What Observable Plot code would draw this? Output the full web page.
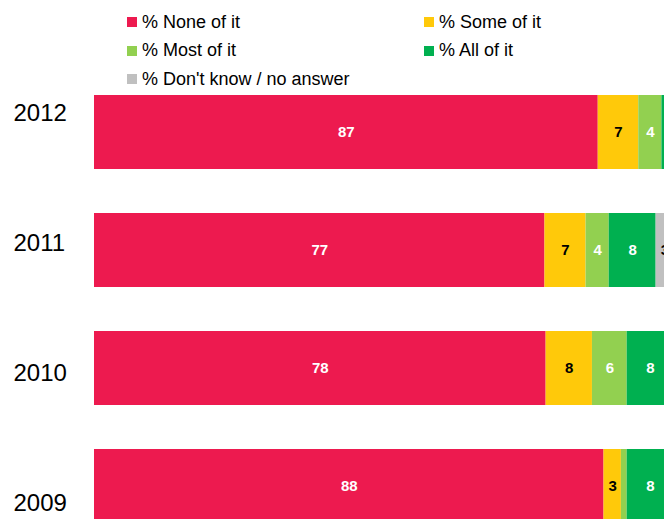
<!DOCTYPE html>
<html>
<head>
<meta charset="utf-8">
<script src="https://cdn.jsdelivr.net/npm/d3@7"></script>
<script src="https://cdn.jsdelivr.net/npm/@observablehq/plot@0.6"></script>
<style>
  html, body { margin: 0; padding: 0; overflow: hidden; background: #fff; }
  #wrap { position: relative; width: 664px; height: 519px; overflow: hidden; font-family: "Liberation Sans", Arial, sans-serif; }
  #legend { position: relative; height: 88px; }
  .item { position: absolute; height: 22px; display: flex; align-items: center; font-size: 18px; color: #000; white-space: nowrap; }
  .sw { width: 10px; height: 10px; margin-right: 5px; flex: none; }
  svg { display: block; }
</style>
</head>
<body>
<div id="wrap">
  <div id="legend"></div>
  <div id="chart"></div>
</div>
<script>
// ---- data ----
const years = ["2012", "2011", "2010", "2009"];
const series = ["% None of it", "% Some of it", "% Most of it", "% All of it", "% Don't know / no answer"];
const colors = ["#ED1A4F", "#FFC90A", "#92D050", "#00B050", "#C0C0C0"];
const labelColors = ["#fff", "#000", "#fff", "#fff", "#000"];
const noneOfIt   = [87, 77.8, 78, 88];
const someOfIt   = [7, 7.1, 8, 3];
const mostOfIt   = [4, 4, 6, 1];
const allOfIt    = [1, 8.1, 8, 8];
const dontKnow   = [1, 3, 0, 0];
// printed data labels of "% None of it" as shown in the source
const noneOfItLabels = ["87", "77", "78", "88"];

const valuesBySeries = [noneOfIt, someOfIt, mostOfIt, allOfIt, dontKnow];
const data = [];
years.forEach((yr, i) => {
  series.forEach((s, j) => {
    const v = valuesBySeries[j][i];
    const label = j === 0 ? noneOfItLabels[i] : (v >= 2.5 ? String(Math.round(v)) : "");
    data.push({year: yr, series: s, value: v, si: j, label});
  });
});

// ---- legend (HTML) ----
const legendLayout = [
  {s: 0, left: 127, top: 11},
  {s: 1, left: 424, top: 11},
  {s: 2, left: 127, top: 39.5},
  {s: 3, left: 424, top: 39.5},
  {s: 4, left: 127, top: 68}
];
const legend = document.getElementById("legend");
legendLayout.forEach(({s, left, top}) => {
  const el = document.createElement("div");
  el.className = "item";
  el.style.left = left + "px";
  el.style.top = top + "px";
  const sw = document.createElement("span");
  sw.className = "sw";
  sw.style.background = colors[s];
  el.appendChild(sw);
  el.appendChild(document.createTextNode(series[s]));
  legend.appendChild(el);
});

// ---- chart ----
const font = "'Liberation Sans', Arial, sans-serif";
const chart = Plot.plot({
  width: 680,
  height: 440,
  marginLeft: 94,
  marginRight: 7,
  marginTop: 0,
  marginBottom: 0,
  style: {fontFamily: font, maxWidth: "none", background: "white"},
  x: {domain: [0, 100], axis: null},
  y: {type: "band", domain: years, range: [7, 435.3], paddingInner: 0.373, paddingOuter: 0, axis: null},
  color: {domain: series, range: colors},
  marks: [
    Plot.barX(data, Plot.stackX({x: "value", y: "year", fill: "series", z: "series", order: null})),
    Plot.text(data, Plot.stackX({
      x: "value", y: "year", z: "series", order: null,
      text: "label",
      fill: d => labelColors[d.si],
      fontSize: 15, fontWeight: "bold", fontFamily: font
    })),
    ...years.map((yr, i) => Plot.text([yr], {
      y: d => d, text: d => d,
      frameAnchor: "left", textAnchor: "start", dx: -81, dy: -19 + 12 * i,
      fontSize: 24, fill: "#000", fontFamily: font
    }))
  ]
});
document.getElementById("chart").appendChild(chart);
</script>
</body>
</html>
